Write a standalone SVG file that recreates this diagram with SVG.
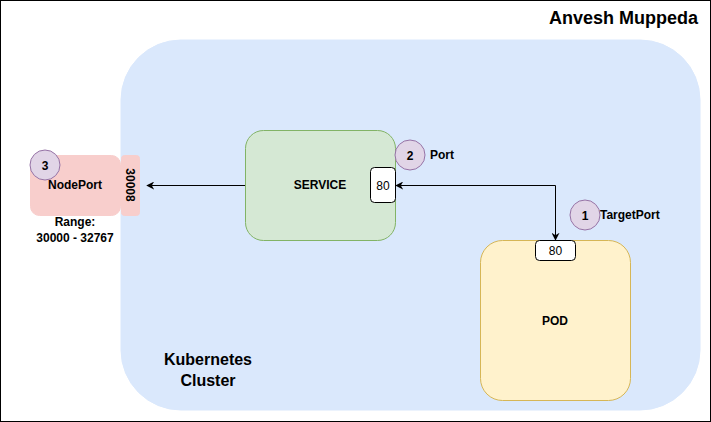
<svg xmlns="http://www.w3.org/2000/svg" width="711" height="422" viewBox="0 0 711 422">
<defs>
<style>
text{font-family:"Liberation Sans",Arial,sans-serif;fill:#000}
.b{font-weight:bold;font-size:12px}
.n{font-size:12px}
.big{font-weight:bold;font-size:16px}
.title{font-weight:bold;font-size:18px}
.circ{fill:#e1d5e7;stroke:#9673a6;stroke-width:1}
.port{fill:#fff;stroke:#000;stroke-width:1}
.edge{fill:none;stroke:#000;stroke-width:1}
</style>
<marker id="arr" viewBox="0 0 10 10" refX="9" refY="5" markerWidth="8" markerHeight="8" orient="auto-start-reverse" markerUnits="userSpaceOnUse">
<path d="M0,0 L10,5 L0,10 L3,5 Z" fill="#000"/>
</marker>
</defs>
<rect x="0" y="0" width="711" height="422" fill="#fff"/>
<rect x="0.5" y="0.5" width="710" height="421" fill="none" stroke="#000"/>
<text class="title" x="698" y="24" text-anchor="end">Anvesh Muppeda</text>
<g id="cluster">
<rect x="121" y="40" width="579" height="370" rx="60" ry="60" fill="#dae8fc" stroke="#dae8fc"/>
<text class="big" x="208" y="365" text-anchor="middle">Kubernetes</text>
<text class="big" x="208" y="386" text-anchor="middle">Cluster</text>
</g>
<g id="nodeport">
<rect x="30.5" y="155.5" width="90" height="60" rx="9" fill="#f8cecc" stroke="#f8cecc"/>
<text class="b" x="75" y="189" text-anchor="middle">NodePort</text>
<text class="b" x="75" y="226" text-anchor="middle">Range:</text>
<text class="b" x="75" y="242" text-anchor="middle">30000 - 32767</text>
</g>
<g id="nodeport-port">
<rect x="121.5" y="155.5" width="18" height="60" rx="3" fill="#f8cecc" stroke="#f8cecc"/>
<text class="b" transform="translate(126,185) rotate(90)" text-anchor="middle">30008</text>
</g>
<g id="badge3">
<circle class="circ" cx="45" cy="165" r="15"/>
<text class="b" x="45" y="169.5" text-anchor="middle">3</text>
</g>
<g id="service">
<rect x="245.5" y="130.5" width="150" height="110" rx="18" fill="#d5e8d4" stroke="#82b366"/>
<text class="b" x="320" y="189" text-anchor="middle">SERVICE</text>
</g>
<g id="service-port">
<rect class="port" x="370.5" y="167.5" width="25" height="35" rx="4"/>
<text class="n" x="383" y="189.5" text-anchor="middle">80</text>
</g>
<g id="badge2">
<circle class="circ" cx="410" cy="155" r="15"/>
<text class="b" x="410" y="159.5" text-anchor="middle">2</text>
<text class="b" x="430" y="159">Port</text>
</g>
<g id="pod">
<rect x="480.5" y="240.5" width="150" height="160" rx="22" fill="#fff2cc" stroke="#d6b656"/>
<text class="b" x="555" y="325" text-anchor="middle">POD</text>
</g>
<g id="pod-port">
<rect class="port" x="535.5" y="240.5" width="40" height="20" rx="4"/>
<text class="n" x="555.5" y="255" text-anchor="middle">80</text>
</g>
<g id="badge1">
<circle class="circ" cx="585" cy="215" r="15"/>
<text class="b" x="585" y="219.5" text-anchor="middle">1</text>
<text class="b" x="600" y="219">TargetPort</text>
</g>
<g id="connectors">
<path class="edge" d="M245,185.5 H147" marker-end="url(#arr)"/>
<path class="edge" d="M396,185.5 H555.5 V240" marker-start="url(#arr)" marker-end="url(#arr)"/>
</g>
</svg>
